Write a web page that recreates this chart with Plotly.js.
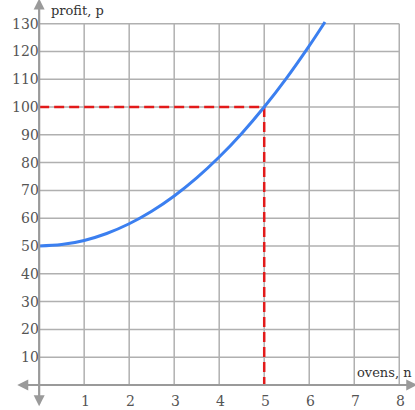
<!DOCTYPE html>
<html><head><meta charset="utf-8">
<script src="https://cdn.plot.ly/plotly-3.0.1.min.js"></script>
<style>html,body{margin:0;padding:0;background:#fff;}#chart{width:415px;height:410px;}</style>
</head><body><div id="chart"></div>
<script>
var xTicks = [1, 2, 3, 4, 5, 6, 7, 8];
var yTicks = [10, 20, 30, 40, 50, 60, 70, 80, 90, 100, 110, 120, 130];
var ovens = [0, 0.5, 1, 1.5, 2, 2.5, 3, 3.5, 4, 4.5, 5, 5.5, 6, 6.35];
var profit = [50, 50.5, 52, 54.5, 58, 62.5, 68, 74.5, 82, 90.5, 100, 110.5, 122, 130.6];
var markN = 5, markP = 100;
var xMax = 8, yMax = 130;

var gridColor = '#b0b0b0', axisColor = '#9a9a9a', textColor = '#555';
var font = {family: 'DejaVu Serif, serif', size: 14, color: textColor};

var shapes = [];
xTicks.forEach(function (t) {
  shapes.push({type: 'line', x0: t, x1: t, y0: 0, y1: yMax, line: {color: gridColor, width: 1.5}, layer: 'below'});
});
yTicks.forEach(function (t) {
  shapes.push({type: 'line', x0: 0, x1: xMax, y0: t, y1: t, line: {color: gridColor, width: 1.5}, layer: 'below'});
});

var annotations = [];
yTicks.forEach(function (t) {
  annotations.push({x: 0, y: t, xref: 'x', yref: 'y', text: String(t), showarrow: false, xanchor: 'right', yanchor: 'middle', xshift: 2, font: font});
});
xTicks.forEach(function (t) {
  annotations.push({x: t, y: 0, xref: 'x', yref: 'y', text: String(t), showarrow: false, xanchor: 'center', yanchor: 'top', xshift: 1, yshift: -6, font: font});
});
// axes with arrows
annotations.push({x: 8.4, y: 0, ax: -0.52, ay: 0, xref: 'x', yref: 'y', axref: 'x', ayref: 'y', showarrow: true, arrowhead: 2, arrowside: 'end+start', arrowsize: 1, arrowwidth: 2.2, arrowcolor: axisColor, text: ''});
annotations.push({x: 0, y: 139, ax: 0, ay: -8.2, xref: 'x', yref: 'y', axref: 'x', ayref: 'y', showarrow: true, arrowhead: 2, arrowside: 'end+start', arrowsize: 1, arrowwidth: 2.2, arrowcolor: axisColor, text: ''});
annotations.push({x: 0.22, y: yMax + 1.2, xref: 'x', yref: 'y', text: 'profit, p', showarrow: false, xanchor: 'left', yanchor: 'bottom', font: {family: 'DejaVu Serif, serif', size: 13, color: '#333'}});
annotations.push({x: 7.02, y: 1, xref: 'x', yref: 'y', text: 'ovens, n', showarrow: false, xanchor: 'left', yanchor: 'bottom', font: {family: 'DejaVu Serif, serif', size: 13, color: '#333'}});

var traces = [
  {x: [0, markN, markN], y: [markP, markP, 0], mode: 'lines', line: {color: '#e21a1a', width: 2.5, dash: '10px,5px'}, hoverinfo: 'skip'},
  {x: ovens, y: profit, mode: 'lines', line: {color: '#3b7ff0', width: 3, shape: 'spline'}, hoverinfo: 'skip'}
];

var layout = {
  width: 415, height: 410,
  margin: {l: 0, r: 0, t: 0, b: 0},
  paper_bgcolor: '#fff', plot_bgcolor: '#fff',
  showlegend: false,
  xaxis: {range: [-0.87, 8.35], showgrid: false, zeroline: false, showticklabels: false, ticks: '', showline: false, fixedrange: true},
  yaxis: {range: [-9, 138.5], showgrid: false, zeroline: false, showticklabels: false, ticks: '', showline: false, fixedrange: true},
  shapes: shapes,
  annotations: annotations
};
Plotly.newPlot('chart', traces, layout, {staticPlot: true, displayModeBar: false});
</script></body></html>
